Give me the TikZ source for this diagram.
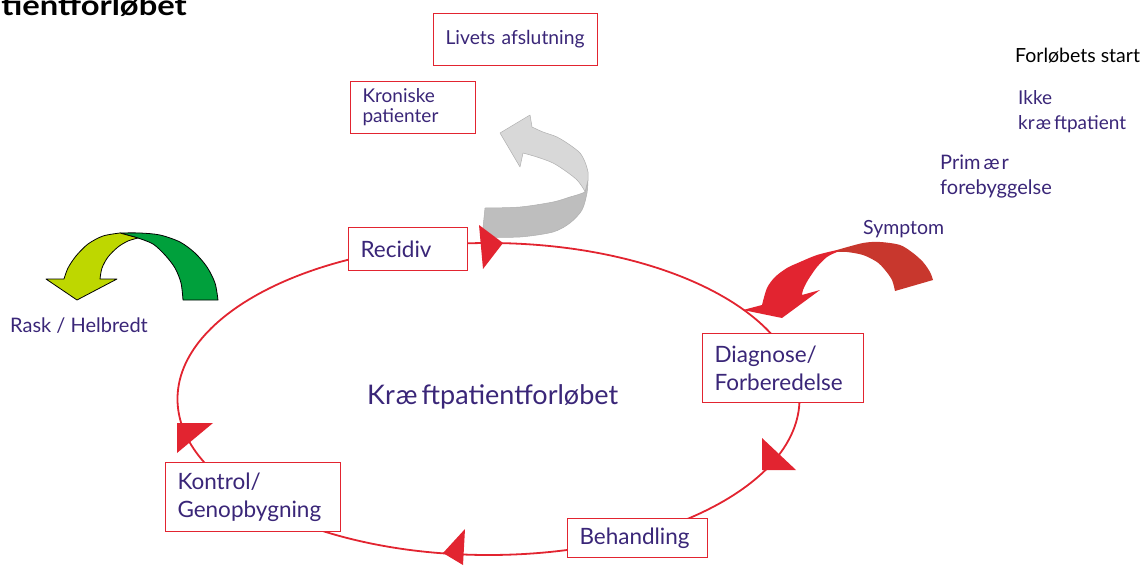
\documentclass[tikz,border=0pt]{standalone}
\usepackage{fontspec}
\setmainfont{Lato}
\usepackage{xcolor}
\usepackage{tikz}
\usetikzlibrary{positioning}
\definecolor{kred}{RGB}{226,36,48}
\definecolor{kredd}{RGB}{200,55,45}
\definecolor{kpurple}{RGB}{58,38,120}
\definecolor{kgreen}{RGB}{0,160,60}
\definecolor{klime}{RGB}{190,215,0}
\definecolor{kgreyl}{RGB}{216,216,216}
\definecolor{kgreyd}{RGB}{190,190,190}
\definecolor{kgreyb}{RGB}{175,175,175}

\tikzset{
box/.style={draw=kred,fill=white,line width=1pt,text=kpurple,anchor=north west,align=left,
  inner xsep=12pt,inner ysep=0pt,font=\fontsize{22.5}{28}\selectfont},
lbl/.style={text=kpurple,anchor=north west,align=left,inner sep=0pt,font=\fontsize{19.5}{25}\selectfont},
head/.style={fill=kred},
ring/.style={draw=kred,line width=1.8pt},
band/.style={line width=0.5pt,line join=round}
}

\begin{document}
\begin{tikzpicture}[x=1pt,y=-1pt]
\useasboundingbox (0,0) rectangle (1143,565);
\begin{scope}
\clip (0,0) rectangle (1143,565);
\node[anchor=base east,inner sep=0pt,xscale=1.17,font=\fontsize{28}{30}\selectfont\bfseries] (title) at (187,15) {Kræftpatientforløbet};
\end{scope}

% the cycle
\coordinate (c) at (488.5,399);
\draw[ring] (c) ellipse [x radius=311pt,y radius=156pt];
\node[text=kpurple,anchor=base west,inner sep=0pt,font=\fontsize{27}{30}\selectfont] (forl) at (367,404) {Kr\kern1ptæ\kern4ptftpatientforløbet};

% grey arrow
\draw[band,kgreyb,fill=kgreyd] plot[smooth] coordinates {(482,237) (520,237) (553,232) (570,223) (582,210) (587,193) (588,180)}
  -- plot[smooth] coordinates {(585,192) (580,194) (570,197) (553,202) (520,207) (485,208)} -- cycle;
\draw[band,kgreyb,fill=kgreyl] plot[smooth] coordinates {(588,180) (588,172) (585,162) (580,153) (570,145) (557,137) (543,132) (532,127)}
  -- (530,115) -- (500,133) -- (520,167) -- plot[smooth] coordinates {(523,153) (537,157) (553,163) (567,172) (577,180) (583,188) (585,192)} -- cycle;

% green arrow
\draw[band,black,fill=kgreen,line width=0.8pt] plot[smooth] coordinates {(218,300) (215,283) (207,267) (195,253) (180,242) (160,235) (140,233) (120,233)}
  -- plot[smooth] coordinates {(138,238) (153,244) (165,255) (175,268) (181,283) (183,300)} -- cycle;
\draw[band,black,fill=klime,line width=0.8pt] plot[smooth] coordinates {(120,233) (103,236) (88,244) (76,256) (68,268) (64,279)}
  -- (46,279) -- (77,300) -- (117,279) -- plot[smooth] coordinates {(100,279) (102,268) (108,257) (118,247) (128,241) (138,238)} -- cycle;

% red arrow
\fill[kredd] plot[smooth] coordinates {(933,280) (930,272) (923,262) (913,253) (900,245) (880,242) (863,243) (837,250)}
  -- plot[smooth] coordinates {(837,252) (847,252) (863,255) (877,262) (885,270) (892,280) (895,291)} -- cycle;
\fill[kred] plot[smooth] coordinates {(837,250) (817,255) (800,262) (787,268) (775,277) (767,288) (762,305)}
  -- (743,310) -- (782,318) -- (820,290) -- plot[smooth] coordinates {(802,295) (803,290) (808,280) (817,267) (827,257) (837,252)} -- cycle;

% boxes
\node[box,text width=140pt,minimum height=52pt,font=\fontsize{19.3}{22}\selectfont] (livets) at (433,13) {Livets afslutning};
\node[box,text width=101pt,minimum height=52pt,font=\fontsize{19}{20}\selectfont] (kronisk) at (350,81) {Kroniske\\patienter};
\node[box,text width=95pt,minimum height=43pt] (recidiv) at (348,227) {Recidiv};
\node[box,text width=137pt,minimum height=69pt] (diagnose) at (702,333) {Diagnose/\\Forberedelse};
\node[box,text width=116pt,minimum height=39pt] (behandl) at (567,518) {Behandling};
\node[box,text width=151pt,minimum height=69pt] (kontrol) at (165,462) {Kontrol/\\Genopbygning};

% arrow heads on the cycle
\fill[head] (479,225)--(503,243)--(483,269)--cycle;
\fill[head] (762,438)--(762,470)--(796,470)--cycle;
\fill[head] (465,529)--(443,553)--(463,565)--cycle;
\fill[head] (177,423)--(213,423)--(177,453)--cycle;

% labels
\node[lbl,text=black] (start) at (1015,48) {Forløbets start};
\node[lbl,font=\fontsize{19}{25}\selectfont] (ikke) at (1018,90) {Ikke\\kr\kern1ptæ\kern3ptftpatient};
\node[lbl,font=\fontsize{20}{25}\selectfont] (primaer) at (940,155) {Prim\kern3ptæ\kern2ptr\\forebyggelse};
\node[lbl] (symptom) at (863,220) {Symptom};
\node[lbl,font=\fontsize{20}{25}\selectfont] (rask) at (10,318) {Rask / Helbredt};
\end{tikzpicture}
\end{document}
